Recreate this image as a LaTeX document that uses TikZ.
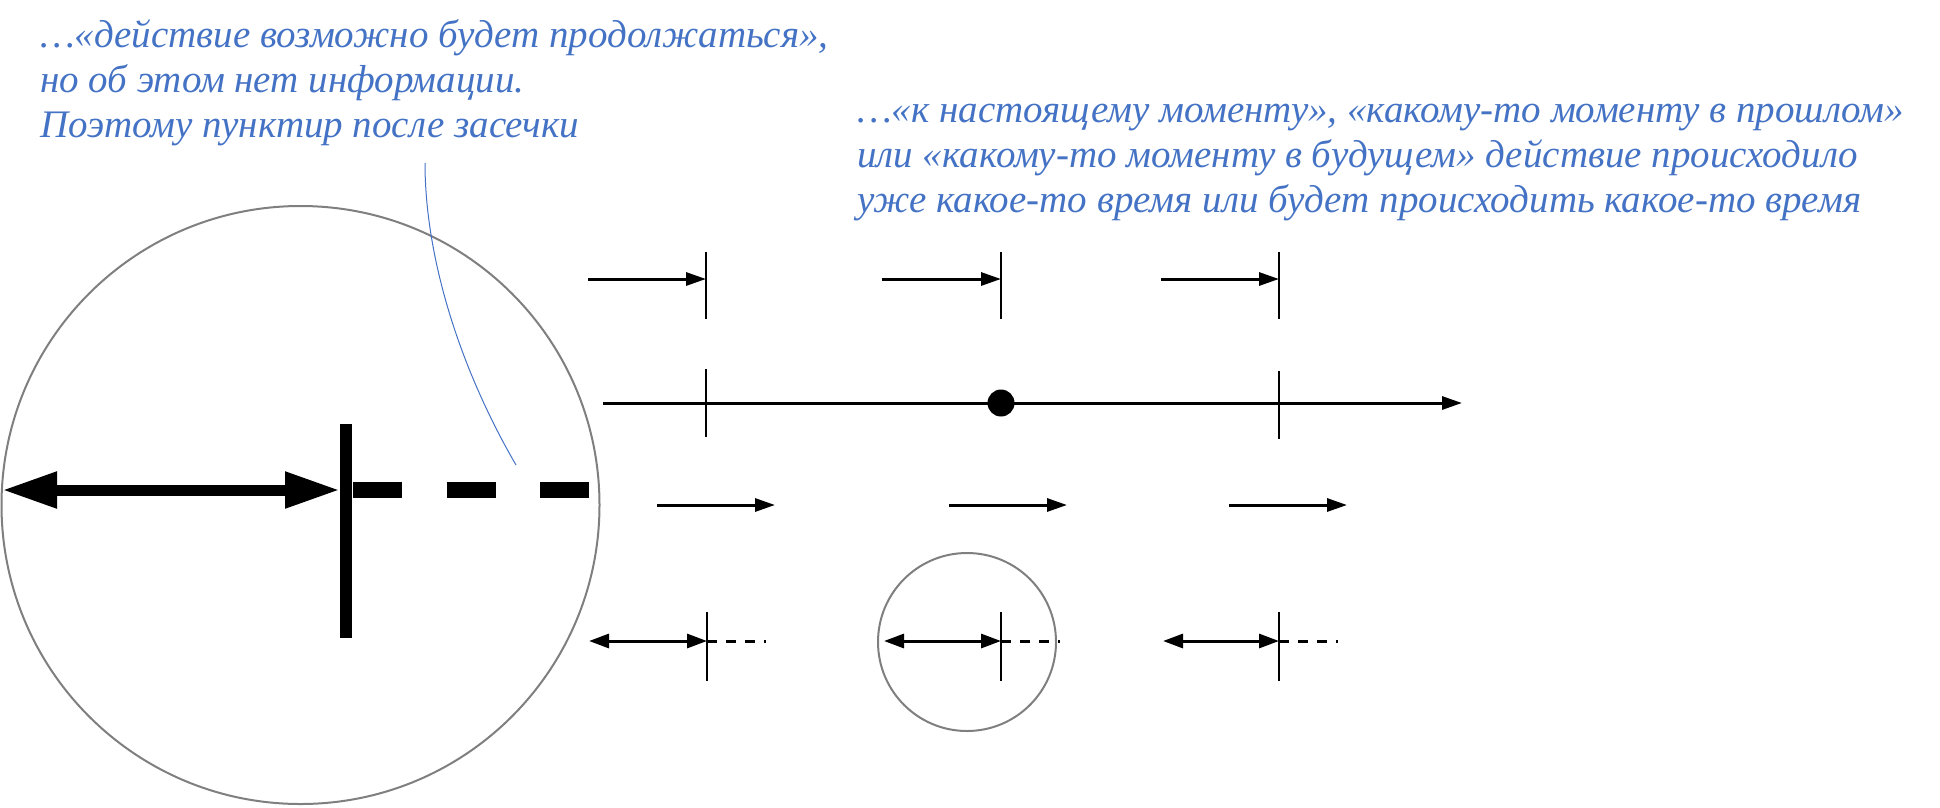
\documentclass[tikz,border=0pt]{standalone}
\usepackage{fontspec}
\setmainfont{Liberation Serif}
\usetikzlibrary{arrows.meta}
\definecolor{noteblue}{HTML}{4472C4}
\definecolor{ringgray}{HTML}{7F7F7F}
\tikzset{
  note/.style={text=noteblue, font=\fontsize{39}{45}\selectfont\itshape, inner sep=0pt, anchor=base west},
  ring/.style={draw=ringgray, line width=2pt},
  tick/.style={line width=2.7pt},
  thinarrow/.style={line width=3pt, -{Triangle[length=20pt,width=13pt]}},
  twoarrow/.style={line width=3pt, {Triangle[length=20pt,width=14pt]}-{Triangle[length=20pt,width=14pt]}},
  dotted line/.style={line width=3pt, dash pattern=on 10pt off 9pt},
  leader/.style={draw=noteblue, line width=1pt},
}
\begin{document}
\begin{tikzpicture}[x=1pt,y=-1pt]
\useasboundingbox (0,0) rectangle (1940,807);
% texts
\node[note] (l1) at (40,47) {…«действие возможно будет продолжаться»,};
\node[note] (l2) at (40,92) {но об этом нет информации.};
\node[note] (l3) at (40,137) {Поэтому пунктир после засечки};
\node[note] (r1) at (857,122) {…«к настоящему моменту», «какому-то моменту в прошлом»};
\node[note] (r2) at (857,167) {или «какому-то моменту в будущем» действие происходило};
\node[note] (r3) at (857,212) {уже какое-то время или будет происходить какое-то время};
% big circle
\node[ring, circle, minimum size=598pt, inner sep=0pt] (big) at (300.5,505) {};
% leader
\coordinate (ls) at (425,163);
\coordinate (le) at (516,465);
\draw[leader] (ls) .. controls (425,255) and (458,365) .. (le);
% big symbol
\coordinate (bl) at (2,490);
\coordinate (br) at (340,490);
\coordinate (bt) at (346,424);
\coordinate (bb) at (346,638);
\coordinate (bds) at (353,490);
\coordinate (bde) at (589,490);
\draw[line width=12pt] (bt) -- (bb);
\draw[line width=11pt, {Triangle[length=55pt,width=34pt]}-{Triangle[length=55pt,width=34pt]}] (bl) -- (br);
\draw[line width=16pt, dash pattern=on 49pt off 44.5pt] (bds) -- (bde);
% row 1
\foreach \n/\xs/\xt in {a/588/706, b/882/1001, c/1161/1279}{
  \coordinate (r1\n s) at (\xs,279);
  \coordinate (r1\n e) at (\xt,279);
  \coordinate (r1\n t) at (\xt,252);
  \coordinate (r1\n b) at (\xt,319);
  \draw[tick] (r1\n t) -- (r1\n b);
  \draw[thinarrow] (r1\n s) -- (r1\n e);
}
% row 2 timeline
\coordinate (tls) at (603,403);
\coordinate (tle) at (1462,403);
\draw[line width=3pt, -{Triangle[length=20pt,width=13pt]}] (tls) -- (tle);
\coordinate (t2at) at (706,369);
\coordinate (t2ab) at (706,437);
\coordinate (t2bt) at (1279,371);
\coordinate (t2bb) at (1279,439);
\draw[tick] (t2at) -- (t2ab);
\draw[tick] (t2bt) -- (t2bb);
\node[circle, fill=black, minimum size=27pt, inner sep=0pt] (now) at (1001,403) {};
% row 3
\foreach \n/\xs/\xt in {a/657/775, b/949/1067, c/1229/1347}{
  \coordinate (r3\n s) at (\xs,505);
  \coordinate (r3\n e) at (\xt,505);
  \draw[thinarrow] (r3\n s) -- (r3\n e);
}
% row 4
\foreach \n/\xs/\xt/\xd in {a/589/707/766, b/884/1001/1060, c/1163/1279/1338}{
  \coordinate (r4\n s) at (\xs,641);
  \coordinate (r4\n e) at (\xt,641);
  \coordinate (r4\n d) at (\xd,641);
  \coordinate (r4\n t) at (\xt,612);
  \coordinate (r4\n b) at (\xt,681);
  \draw[tick] (r4\n t) -- (r4\n b);
  \draw[twoarrow] (r4\n s) -- (r4\n e);
  \draw[dotted line] (r4\n e) -- (r4\n d);
}
% small circle
\node[ring, circle, minimum size=178pt, inner sep=0pt] (small) at (967,642) {};
\end{tikzpicture}
\end{document}
